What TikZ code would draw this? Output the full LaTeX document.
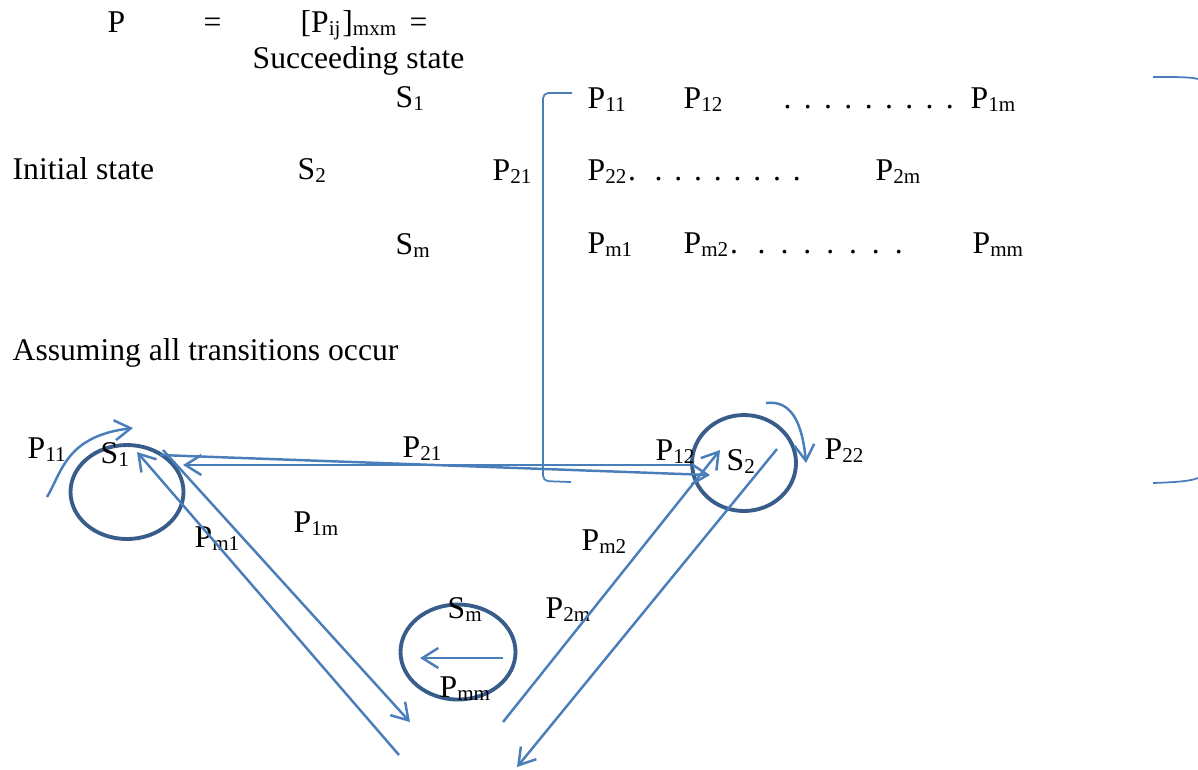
\documentclass[tikz,border=0pt]{standalone}
\usepackage{fontspec}
\setmainfont{Liberation Serif}
\usepackage{tikz}
\usetikzlibrary{shapes.geometric, arrows.meta}
\usepackage{xcolor}
\definecolor{lineblue}{RGB}{74,126,187}
\definecolor{ringblue}{RGB}{56,93,138}
\newcommand{\sub}[1]{\textsubscript{#1}}
\newcommand{\spreaddots}[2]{\makebox[#1][s]{#2}}

\begin{document}
\begin{tikzpicture}[x=0.1mm, y=-0.1mm, >={Straight Barb[length=1.6mm, width=2mm]},
    txt/.style={anchor=base west, inner sep=0pt, font=\fontsize{9}{11}\selectfont},
    ring/.style={ellipse, draw=ringblue, line width=1.1pt, inner sep=0pt},
    trans/.style={->, draw=lineblue, line width=0.7pt},
    brace/.style={draw=lineblue, line width=0.5pt}]
        \useasboundingbox (0,0) rectangle (1198,769);
        % Heading: P = [Pij]mxm =
        \node[txt] (pname) at (107,32) {P};
        \node[txt] (eqa) at (203,32) {=};
        \node[txt] (pij) at (300,32) {[P\sub{ij}]\sub{mxm}};
        \node[txt] (eqb) at (409,32) {=};
        \node[txt] (succ) at (252,68) {Succeeding state};
        % Row labels
        \node[txt] (rs1) at (395,107) {S\sub{1}};
        \node[txt] (init) at (12,179) {Initial state};
        \node[txt] (rs2) at (297,179) {S\sub{2}};
        \node[txt] (rsm) at (395,254) {S\sub{m}};
        % Matrix entries
        \foreach \px/\py/\t/\n in {
            587/108/P\sub{11}/m11, 683/108/P\sub{12}/m12, 970/108/P\sub{1m}/m1m,
            492/180/P\sub{21}/m21, 587/180/P\sub{22}./m22, 875/180/P\sub{2m}/m2m,
            587/253/P\sub{m1}/mm1, 683/253/P\sub{m2}./mm2, 972/253/P\sub{mm}/mmm} {
          \node[txt] (\n) at (\px,\py) {\t};
        }
        \node[txt] (dots1) at (783,108) {\spreaddots{17mm}{. . . . . . . . .}};
        \node[txt] (dots2) at (654,180) {\spreaddots{14.6mm}{. . . . . . . .}};
        \node[txt] (dots3) at (757,253) {\spreaddots{14.5mm}{. . . . . . .}};
        % Brackets
        \draw[brace, rounded corners=1.5pt] (572,93) -- (543,93) -- (543,481) -- (571,482);
        \draw[brace] (1153,77) .. controls (1180,77) and (1190,77) .. (1198,79);
        \draw[brace] (1153,483) .. controls (1180,482) and (1190,481) .. (1198,478);
        \node[txt] (assume) at (12,360) {Assuming all transitions occur};
        % States
        \node[ring, minimum width=11.3mm, minimum height=9.4mm] (s1) at (127,492) {};
        \node[ring, minimum width=10.4mm, minimum height=9.6mm] (s2) at (744,463) {};
        \node[ring, minimum width=11.5mm, minimum height=9.5mm] (sm) at (458,652) {};
        \node[txt] (ls1) at (100,463) {S\sub{1}};
        \node[txt] (ls2) at (726,470) {S\sub{2}};
        \node[txt] (lsm) at (447,618) {S\sub{m}};
        % Transition labels
        \foreach \px/\py/\t/\n in {
            27/458/11/l11, 402/457/21/l21, 655/460/12/l12, 824/459/22/l22,
            293/532/1m/l1m, 194/547/m1/lm1, 581/550/m2/lm2, 545/618/2m/l2m,
            439/697/mm/lmm} {
          \node[txt] (\n) at (\px,\py) {P\sub{\t}};
        }
        % Arrow ends
        \coordinate (a11) at (47,497);   \coordinate (b11) at (133,428);
        \coordinate (a22) at (766,403);  \coordinate (b22) at (806,463);
        \coordinate (a12) at (160,455);  \coordinate (b12) at (710,475);
        \coordinate (a21) at (690,465);  \coordinate (b21) at (183,465);
        \coordinate (a1m) at (163,450);  \coordinate (b1m) at (410,722);
        \coordinate (am1) at (399,755);  \coordinate (bm1) at (137,452);
        \coordinate (am2) at (503,722);  \coordinate (bm2) at (720,450);
        \coordinate (a2m) at (777,449);  \coordinate (b2m) at (517,767);
        \coordinate (amm) at (503,658);  \coordinate (bmm) at (420,658);
        % Transitions
        \draw[trans] (a11) .. controls (62,472) and (66,436) .. (b11);
        \draw[trans] (a22) .. controls (790,400) and (802,420) .. (b22);
        \draw[trans] (a12) -- (b12);
        \draw[trans] (a21) -- (b21);
        \draw[trans] (a1m) -- (b1m);
        \draw[trans] (am1) -- (bm1);
        \draw[trans] (am2) -- (bm2);
        \draw[trans] (a2m) -- (b2m);
        \draw[trans] (amm) -- (bmm);
\end{tikzpicture}
\end{document}
